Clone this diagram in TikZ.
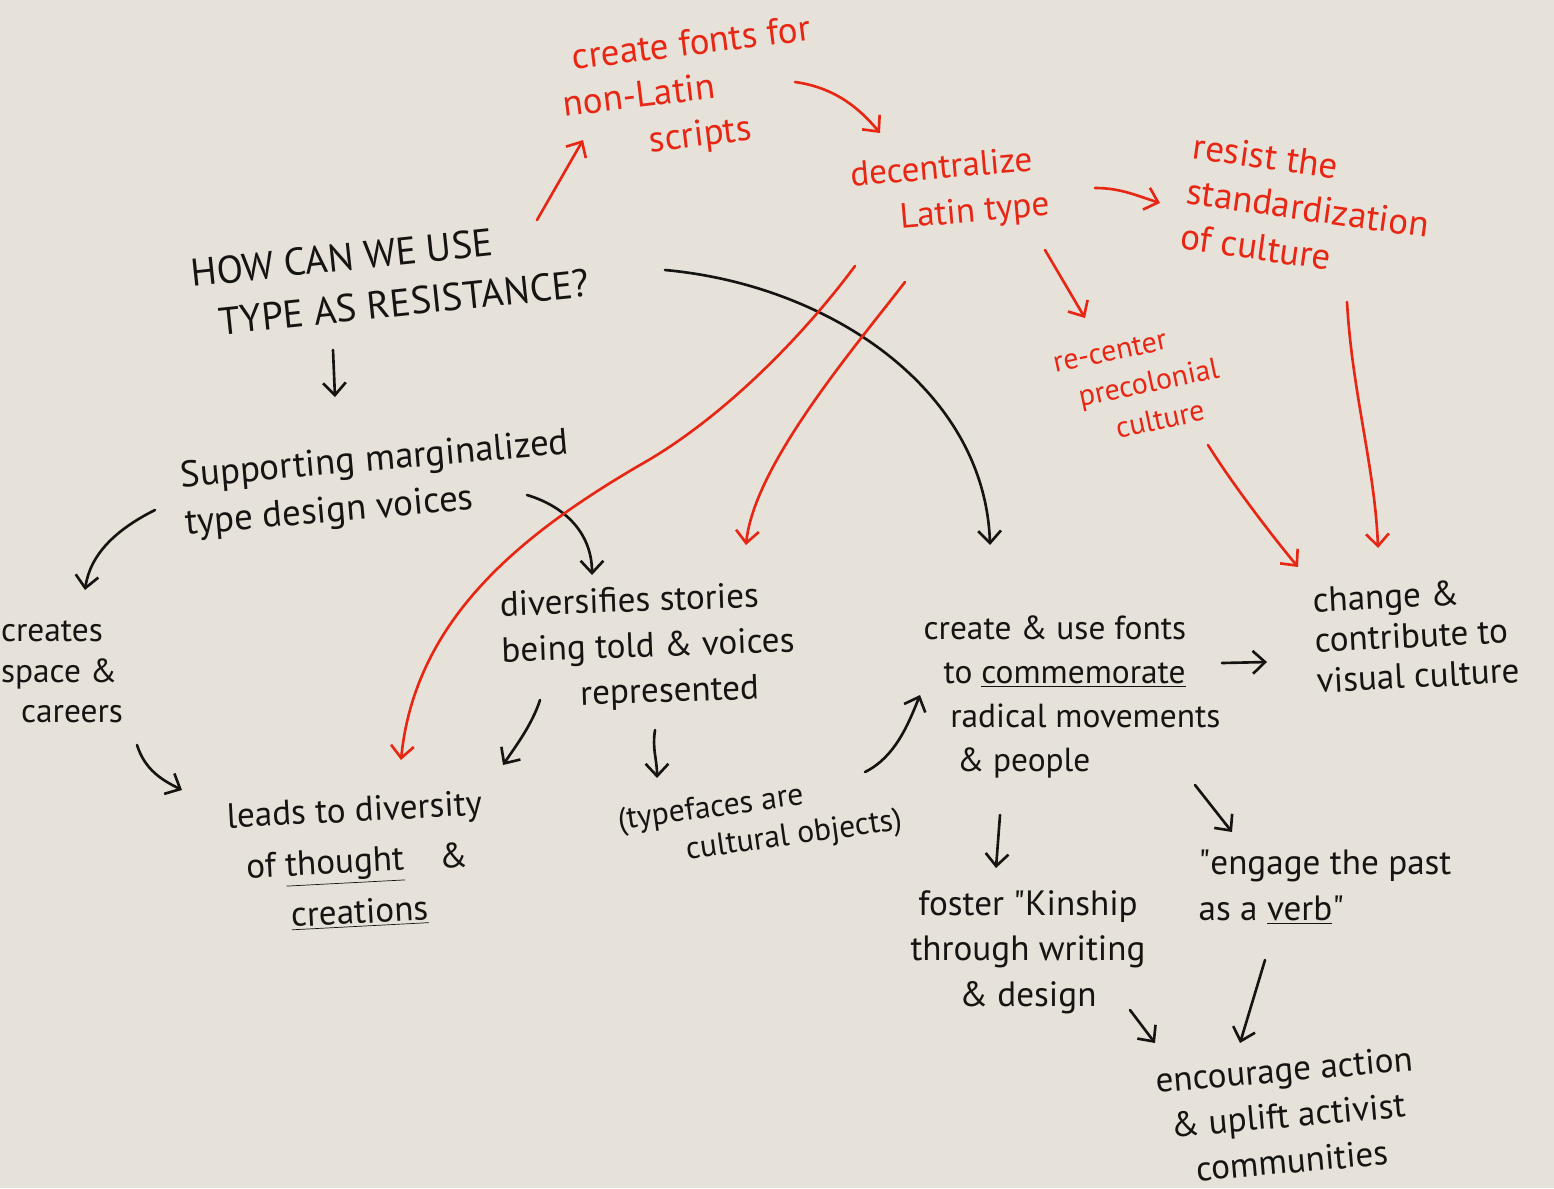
\documentclass[tikz,border=0pt]{standalone}
\usepackage{fontspec}
\setmainfont{PT Sans}
\usetikzlibrary{arrows.meta,calc}
\definecolor{paper}{RGB}{230,226,217}
\definecolor{inkblack}{RGB}{22,20,18}
\definecolor{inkred}{RGB}{232,38,20}
\newcommand{\hand}[2]{\fontsize{#1}{#2}\selectfont}
\tikzset{
    note/.style={inner sep=0pt, align=left, text=inkblack, font=\hand{20}{26}},
    rednote/.style={note, text=inkred},
    link/.style={-{Straight Barb[length=7pt, width=13pt]}, line width=1.5pt, line cap=round, line join=round, inkblack},
    redlink/.style={link, inkred}
}

\begin{document}
\begin{tikzpicture}[x=0.02cm, y=-0.02cm]
    \fill[paper] (0,0) rectangle (1554,1188);

    % black notes
    \node[note, font=\hand{22}{29}, rotate=6] (q) at (390,278) {HOW CAN WE USE\\\hspace*{.6em}TYPE AS RESISTANCE?};
    \node[note, font=\hand{21}{27}, rotate=5] (sup) at (377,485) {Supporting marginalized\\type design voices};
    \node[note, font=\hand{19}{23}] (cs) at (62,672) {creates\\space \&\\\hspace*{.6em}careers};
    \node[note, align=center, font=\hand{20}{29}, rotate=3] (leads) at (357,862) {leads to diversity\\of \underline{thought}\quad\&\\\underline{creations}};
    \node[note, rotate=2] (div) at (648,648) {diversifies stories\\being told \& voices\\\hspace*{2.2em}represented};
    \node[note, font=\hand{18}{22}, rotate=8] (tf) at (760,822) {(typefaces are\\\hspace*{2em}cultural objects)};
    \node[note, font=\hand{19}{25}] (cu) at (1072,697) {create \& use fonts\\\hspace*{.6em}to \underline{commemorate}\\\hspace*{.8em}radical movements\\\hspace*{1em}\& people};
    \node[note, font=\hand{20}{23}, rotate=3] (ch) at (1416,635) {change \&\\contribute to\\visual culture};
    \node[note, align=center] (fo) at (1028,952) {foster \textquotedbl Kinship\\through writing\\\& design};
    \node[note] (en) at (1325,887) {\textquotedbl engage the past\\as a \underline{verb}\textquotedbl};
    \node[note, align=center, rotate=5] (ea) at (1288,1115) {encourage action\\\& uplift activist\\communities};

    % red notes
    \node[rednote, font=\hand{21}{26}, rotate=7] (cf) at (690,92) {\hspace*{.4em}create fonts for\\non-Latin\\\hspace*{2.2em}scripts};
    \node[rednote, rotate=5] (dc) at (950,192) {decentralize\\\hspace*{1.3em}Latin type};
    \node[rednote, font=\hand{21}{26}, rotate=-8] (rs) at (1308,208) {resist the\\standardization\\of culture};
    \node[rednote, font=\hand{17}{22}, rotate=12] (rc) at (1140,385) {re-center\\\hspace*{.6em}precolonial\\\hspace*{1.6em}culture};

    % black links
    \draw[link] ($(q)+(-57,72)$) -- ($(sup)+(-42,-88)$);
    \draw[link] ($(q)+(275,-8)$) .. controls +(165,15) and +(-5,-155) .. ($(cu)+(-82,-152)$);
    \draw[link] ($(sup)+(-222,25)$) .. controls +(-40,20) and +(5,-35) .. ($(cs)+(23,-82)$);
    \draw[link] ($(sup)+(150,10)$) .. controls +(40,12) and +(0,-40) .. ($(div)+(-56,-73)$);
    \draw[link] ($(cs)+(75,73)$) .. controls +(8,25) and +(-20,-10) .. ($(leads)+(-175,-72)$);
    \draw[link] ($(div)+(-108,52)$) .. controls +(-8,25) and +(12,-18) .. ($(leads)+(146,-97)$);
    \draw[link] ($(div)+(7,82)$) .. controls +(-3,20) and +(0,-20) .. ($(tf)+(-103,-44)$);
    \draw[link] ($(tf)+(105,-50)$) .. controls +(30,-15) and +(-12,30) .. ($(cu)+(-152,-2)$);
    \draw[link] ($(cu)+(150,-34)$) -- ($(ch)+(-149,27)$);
    \draw[link] ($(cu)+(-72,118)$) -- ($(fo)+(-32,-84)$);
    \draw[link] ($(cu)+(123,88)$) -- ($(en)+(-93,-55)$);
    \draw[link] ($(fo)+(102,58)$) -- ($(ea)+(-133,-72)$);
    \draw[link] ($(en)+(-60,73)$) -- ($(ea)+(-48,-72)$);

    % red links
    \draw[redlink] ($(q)+(147,-58)$) -- ($(cf)+(-107,48)$);
    \draw[redlink] ($(cf)+(105,-10)$) .. controls +(35,5) and +(-25,-30) .. ($(dc)+(-70,-59)$);
    \draw[redlink] ($(dc)+(145,-4)$) .. controls +(25,0) and +(-25,-8) .. ($(rs)+(-148,-5)$);
    \draw[redlink] ($(dc)+(95,58)$) -- ($(rc)+(-55,-67)$);
    \draw[redlink] ($(dc)+(-95,74)$) .. controls +(-55,74) and +(80,-45) .. (640,465)
        .. controls +(-120,70) and +(14,-140) .. ($(leads)+(44,-102)$);
    \draw[redlink] ($(dc)+(-45,90)$) .. controls +(-50,65) and +(8,-80) .. ($(div)+(98,-103)$);
    \draw[redlink] ($(rc)+(68,60)$) .. controls +(25,40) and +(-25,-30) .. ($(ch)+(-118,-68)$);
    \draw[redlink] ($(rs)+(39,94)$) .. controls +(5,90) and +(-3,-80) .. ($(ch)+(-38,-87)$);
\end{tikzpicture}
\end{document}
